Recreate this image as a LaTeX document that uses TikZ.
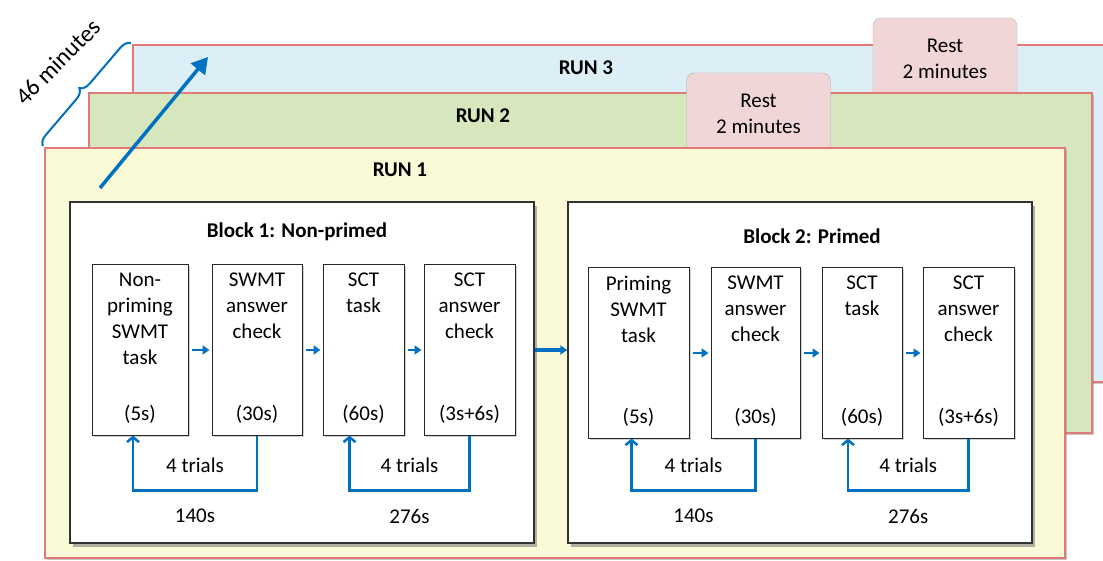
\documentclass[tikz,border=0pt]{standalone}
\usepackage{fontspec}
\setmainfont{Carlito}
\usetikzlibrary{arrows.meta,shadows,decorations.pathreplacing}

\definecolor{runblue}{RGB}{220,239,247}
\definecolor{rungreen}{RGB}{214,231,190}
\definecolor{runyellow}{RGB}{250,250,214}
\definecolor{runedge}{RGB}{226,122,122}
\definecolor{restpink}{RGB}{240,214,214}
\definecolor{flowblue}{RGB}{0,112,192}

\begin{document}
\begin{tikzpicture}[
    x=1pt, y=-1pt,
    font=\fontsize{21}{26}\selectfont,
    runframe/.style={rectangle, draw=runedge, line width=1.2pt, inner sep=0,
      drop shadow={shadow xshift=2pt, shadow yshift=-2pt, opacity=.45}},
    runlbl/.style={font=\fontsize{21}{26}\selectfont\bfseries},
    restbox/.style={rectangle, draw=black!30, fill=restpink, rounded corners=8pt,
      align=center, minimum width=144, minimum height=82, inner sep=0},
    blockbox/.style={rectangle, draw=black!80, line width=1.5pt, fill=white, inner sep=0,
      minimum width=464, minimum height=341,
      drop shadow={shadow xshift=3pt, shadow yshift=-4pt, opacity=.6}},
    blocklbl/.style={anchor=north, yshift=-18pt, font=\fontsize{21}{26}\selectfont\bfseries},
    taskbox/.style={rectangle, draw=black!85, line width=1pt, fill=white, inner sep=0,
      minimum height=170,
      drop shadow={shadow xshift=1.5pt, shadow yshift=-1.5pt, opacity=.35}},
    tasktxt/.style={anchor=north, align=center, yshift=-5pt},
    timetxt/.style={anchor=south, yshift=9pt},
    flowarrow/.style={-{Triangle[length=7pt,width=9pt]}, draw=flowblue, line width=2.5pt,
      shorten <=3pt, shorten >=2pt},
    trialloop/.style={-{Straight Barb[length=5pt,width=12pt]}, draw=flowblue, line width=2.5pt}
  ]
  \useasboundingbox (0,0) rectangle (1103,561);

  % Runs, back to front
  \node[runframe, fill=runblue, minimum width=982, minimum height=337] (run3) at (624,213.5) {};
  \node[restbox] (rest3) at (945,59) {Rest\\2 minutes};
  \node[runlbl] (run3lbl) at (586,68) {RUN 3};

  \node[runframe, fill=rungreen, minimum width=1003, minimum height=340] (run2) at (590.5,263) {};
  \node[restbox] (rest2) at (758.5,114) {Rest\\2 minutes};
  \node[runlbl] (run2lbl) at (483,116) {RUN 2};

  \node[runframe, fill=runyellow, minimum width=1020, minimum height=410] (run1) at (555,353) {};
  \node[runlbl] (run1lbl) at (400,170) {RUN 1};

  % Duration
  \draw[flowblue, line width=2pt, decorate, decoration={brace, amplitude=10pt, raise=2pt}]
    (run1.north west) -- (run3.north west);
  \node[rotate=45, font=\fontsize{24}{28}\selectfont] (dur) at (58,62) {46 minutes};
  \coordinate (up0) at (100,188);
  \coordinate (up1) at (208,57);
  \draw[-{Triangle[length=16pt,width=18pt]}, draw=flowblue, line width=3.5pt] (up0) -- (up1);

  % Block 1
  \node[blockbox, label={[blocklbl, xshift=-5pt]north:{Block 1: Non-primed}}] (blk1) at (302,372.5) {};
  \node[taskbox, minimum width=96, label={[tasktxt]north:Non-\\priming\\SWMT\\task},
    label={[timetxt]south:(5s)}] (n1) at (140,350) {};
  \node[taskbox, minimum width=90, label={[tasktxt]north:SWMT\\answer\\check},
    label={[timetxt]south:(30s)}] (n2) at (257,350) {};
  \node[taskbox, minimum width=81, label={[tasktxt]north:SCT\\task},
    label={[timetxt]south:(60s)}] (n3) at (363.5,350) {};
  \node[taskbox, minimum width=91, label={[tasktxt]north:SCT\\answer\\check},
    label={[timetxt]south:(3s+6s)}] (n4) at (469.5,350) {};

  % Block 2
  \node[blockbox, label={[blocklbl, xshift=12pt, yshift=-6pt]north:{Block 2: Primed}}] (blk2) at (800,372.5) {};
  \node[taskbox, minimum width=101, label={[tasktxt]north:Priming\\SWMT\\task},
    label={[timetxt]south:(5s)}] (p1) at (638.5,353) {};
  \node[taskbox, minimum width=89, label={[tasktxt]north:SWMT\\answer\\check},
    label={[timetxt]south:(30s)}] (p2) at (755.5,353) {};
  \node[taskbox, minimum width=80, label={[tasktxt]north:SCT\\task},
    label={[timetxt]south:(60s)}] (p3) at (862,353) {};
  \node[taskbox, minimum width=91, label={[tasktxt]north:SCT\\answer\\check},
    label={[timetxt]south:(3s+6s)}] (p4) at (968.5,353) {};

  % Flow
  \draw[flowarrow] (n1) -- (n2);
  \draw[flowarrow] (n2) -- (n3);
  \draw[flowarrow] (n3) -- (n4);
  \draw[flowarrow] (p1) -- (p2);
  \draw[flowarrow] (p2) -- (p3);
  \draw[flowarrow] (p3) -- (p4);
  \draw[flowarrow, line width=4pt, shorten <=0pt, shorten >=0pt] (blk1.east |- n4) -- (blk2.west |- n4);

  % Trials
  \draw[trialloop] (n2.south) -- ++(0,55) -| node[pos=.25, above=13pt] {4 trials}
    node[pos=.25, below=14pt] {140s} ([xshift=-7pt]n1.south);
  \draw[trialloop] (n4.south) -- ++(0,55) -| node[pos=.25, above=13pt] {4 trials}
    node[pos=.25, below=14pt] {276s} ([xshift=-14pt]n3.south);
  \draw[trialloop] (p2.south) -- ++(0,52) -| node[pos=.25, above=13pt] {4 trials}
    node[pos=.25, below=14pt] {140s} ([xshift=-7pt]p1.south);
  \draw[trialloop] (p4.south) -- ++(0,52) -| node[pos=.25, above=13pt] {4 trials}
    node[pos=.25, below=14pt] {276s} ([xshift=-14pt]p3.south);
\end{tikzpicture}
\end{document}
